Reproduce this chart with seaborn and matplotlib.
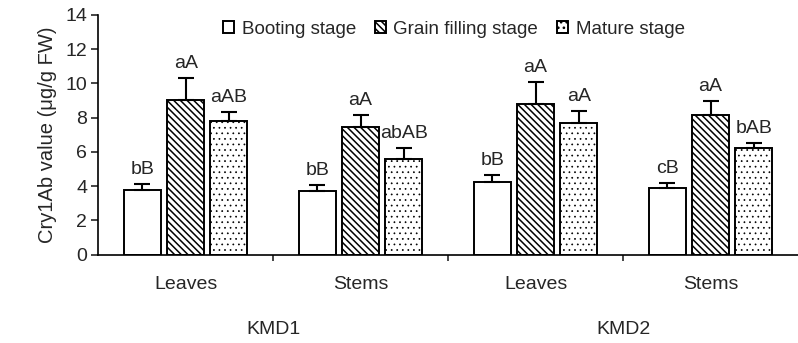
import matplotlib
matplotlib.use("Agg")
import matplotlib.pyplot as plt
import matplotlib.patches as mpatches
import seaborn as sns
import pandas as pd

groups = ["KMD1 Leaves", "KMD1 Stems", "KMD2 Leaves", "KMD2 Stems"]
tick_labels = ["Leaves", "Stems", "Leaves", "Stems"]
cultivars = ["KMD1", "KMD2"]
stages = ["Booting stage", "Grain filling stage", "Mature stage"]

booting = [3.75, 3.7, 4.22, 3.9]
grain = [9.02, 7.48, 8.8, 8.17]
mature = [7.78, 5.6, 7.67, 6.2]
booting_err = [0.4, 0.35, 0.43, 0.3]
grain_err = [1.27, 0.7, 1.27, 0.77]
mature_err = [0.52, 0.63, 0.73, 0.3]
booting_lab = ["bB", "bB", "bB", "cB"]
grain_lab = ["aA", "aA", "aA", "aA"]
mature_lab = ["aAB", "abAB", "aA", "bAB"]

df = pd.DataFrame({
    "group": groups * 3,
    "stage": [s for s in stages for _ in groups],
    "value": booting + grain + mature,
    "err": booting_err + grain_err + mature_err,
    "lab": booting_lab + grain_lab + mature_lab,
})

sns.set_style("ticks")
plt.rcParams["font.family"] = ["Liberation Sans", "DejaVu Sans"]
plt.rcParams["hatch.linewidth"] = 1.1

fig = plt.figure(figsize=(7.98, 3.43), dpi=100)
ax = fig.add_axes([0.123, 0.2574, 0.877, 0.6996])

sns.barplot(data=df, x="group", y="value", hue="stage", order=groups,
            hue_order=stages, width=0.74, gap=0.15, errorbar=None,
            palette=["white"] * 3, edgecolor="black", linewidth=1.4,
            legend=False, ax=ax)

hatches = ["", "\\\\\\\\\\", "..."]
hatch_lw = [1.1, 1.1, 0.5]
bar_containers = list(ax.containers)
for i, cont in enumerate(bar_containers):
    sub = df[df["stage"] == stages[i]].reset_index(drop=True)
    for j, bar in enumerate(cont):
        bar.set_hatch(hatches[i])
        if hasattr(bar, "set_hatch_linewidth"):
            bar.set_hatch_linewidth(hatch_lw[i])
        xc = bar.get_x() + bar.get_width() / 2
        h = bar.get_height()
        e = sub.loc[j, "err"]
        ax.errorbar(xc, h, yerr=[[0], [e]], fmt="none", ecolor="black",
                    elinewidth=1.5, capsize=5.5, capthick=1.5)
        ax.text(xc, h + e + 0.35, sub.loc[j, "lab"], ha="center", va="bottom",
                fontsize=14)

ax.set_ylim(0, 14)
ax.set_xlim(-0.5, 3.5)
ax.set_yticks(range(0, 15, 2))
ax.set_xticks([0.5, 1.5, 2.5])
ax.set_xticklabels([])
ax.set_xticks(range(4), minor=True)
ax.set_xticklabels(tick_labels, minor=True, fontsize=14)
ax.tick_params(axis="x", which="minor", length=0, pad=15)
ax.tick_params(axis="x", which="major", length=4, width=1.2, direction="out")
ax.tick_params(axis="y", labelsize=14, length=5, width=1.2, pad=3)
ax.set_xlabel("")
ax.set_ylabel("Cry1Ab value (μg/g FW)", fontsize=14.5, labelpad=6)
sns.despine(ax=ax)
for sp in ["left", "bottom"]:
    ax.spines[sp].set_linewidth(1.2)
    ax.spines[sp].set_color("black")

for k, c in enumerate(cultivars):
    ax.text(0.5 + 2 * k, -0.31, c, transform=ax.get_xaxis_transform(),
            ha="center", va="center", fontsize=14)

handles = [mpatches.Patch(facecolor="white", edgecolor="black", hatch=hatches[i],
                          linewidth=1.4, label=stages[i]) for i in range(3)]
ax.legend(handles=handles, loc="upper center", bbox_to_anchor=(0.508, 1.045),
          ncol=3, frameon=False, fontsize=13.5, handlelength=0.6,
          handleheight=0.6, handletextpad=0.4, columnspacing=1.0)

fig.savefig("out.png", dpi=100)
